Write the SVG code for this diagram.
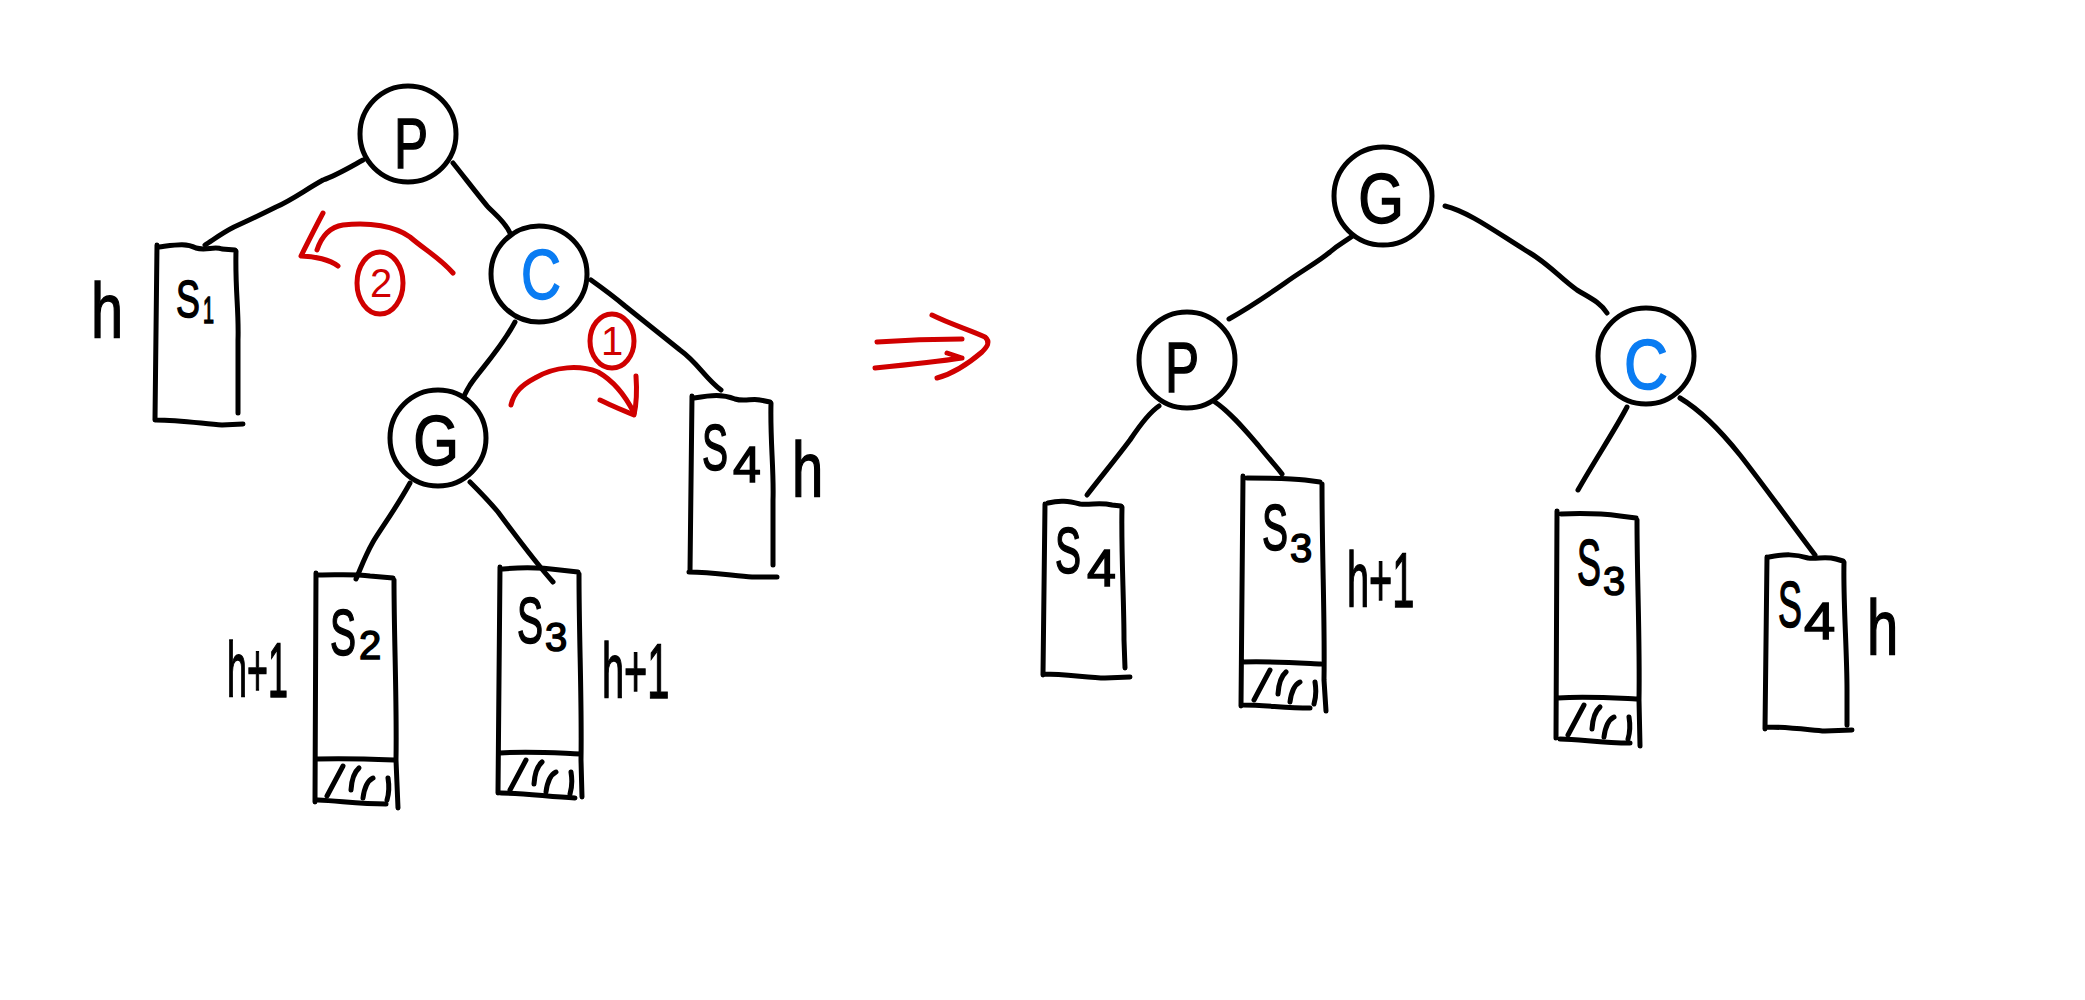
<svg xmlns="http://www.w3.org/2000/svg" xmlns:xlink="http://www.w3.org/1999/xlink" width="2085" height="1000" viewBox="0 0 2085 1000">
<style>
.ink{fill:none;stroke:#000;stroke-width:5;stroke-linecap:round;stroke-linejoin:round}
.red{fill:none;stroke:#D00000;stroke-width:5;stroke-linecap:round;stroke-linejoin:round}
.circ{fill:#fff;stroke:#000;stroke-width:5}
.t{font-family:"Liberation Sans","DejaVu Sans",sans-serif;fill:#000;stroke:#000;stroke-width:1.5}
.nl{font-size:70px;text-anchor:middle}
.blue{fill:#0A7CF2;stroke:#0A7CF2}
.s{font-size:64px}
.d{font-size:40px}
.hl{font-size:78px}
.rn{font-family:"Liberation Sans","DejaVu Sans",sans-serif;font-size:40px;fill:#D00000;text-anchor:middle}
</style>
<defs>
<path id="hatch" class="ink" d="M11,36 L27,6 M35,30 Q36,14 43,8 M47,38 Q49,22 57,18 M72,18 Q74,30 71,40"/>
</defs>
<rect width="2085" height="1000" fill="#fff"/>

<g id="connectors">
<path class="ink" d="M363,160 C345,170 335,176 323,180 C305,190 292,200 276,207 C260,215 245,222 234,227 C222,233 213,240 205,245"/>
<path class="ink" d="M453,163 C465,178 478,195 488,207 C497,216 505,222 510,233"/>
<path class="ink" d="M515,322 C500,350 480,370 470,385 C465,393 462,400 459,408"/>
<path class="ink" d="M591,280 C605,290 612,295 625,306 C645,322 665,338 680,350 C698,363 705,378 721,390"/>
<path class="ink" d="M410,483 C395,510 380,530 373,542 C365,556 360,570 356,579"/>
<path class="ink" d="M470,482 C480,492 488,500 498,512 C515,535 535,562 553,582"/>
<path class="ink" d="M1358,232 C1345,242 1340,243 1330,252 C1318,262 1300,272 1285,283 C1265,297 1245,310 1229,319"/>
<path class="ink" d="M1445,206 C1470,212 1500,235 1530,253 C1550,265 1560,278 1577,290 C1590,298 1600,302 1607,313"/>
<path class="ink" d="M1159,406 C1150,412 1140,425 1130,440 C1115,460 1100,478 1087,495"/>
<path class="ink" d="M1215,402 C1230,412 1245,430 1258,445 C1270,460 1277,467 1282,474"/>
<path class="ink" d="M1627,407 C1615,430 1595,460 1578,490"/>
<path class="ink" d="M1680,398 C1700,410 1720,430 1740,455 C1765,487 1790,522 1815,555"/>
</g>

<g id="rotations">
<g id="rot2">
<path class="red" d="M453,273 C440,258 425,250 410,237 C395,226 370,222 343,225 C330,227 322,235 317,250"/>
<path class="red" d="M323,213 C315,228 308,242 301,256 C315,256 330,260 338,266"/>
<ellipse class="red" cx="380" cy="283" rx="23" ry="31"/>
<text class="rn" x="381" y="297">2</text>
</g>
<g id="rot1">
<path class="red" d="M511,405 C514,392 522,385 535,378 C555,366 580,365 598,372 C612,380 625,395 634,413"/>
<path class="red" d="M636,376 C637,390 637,402 634,415 C622,410 610,405 600,400"/>
<ellipse class="red" cx="612" cy="341" rx="22" ry="27"/>
<text class="rn" x="612" y="355">1</text>
</g>
<g id="transform-arrow">
<path class="red" d="M877,342 C905,340 935,339 962,339"/>
<path class="red" d="M875,368 C905,365 935,362 962,358 M947,353 L962,358"/>
<path class="red" d="M932,315 C950,324 970,330 985,337 C991,342 987,347 982,352 C968,364 952,374 937,378"/>
</g>
</g>

<g id="L-P">
<circle class="circ" cx="408" cy="134" r="48"/>
<text class="t nl" transform="translate(411,168) scale(0.73,1)">P</text>
</g>
<g id="L-C">
<circle class="circ" cx="539" cy="274" r="48"/>
<text class="t nl blue" transform="translate(541,299) scale(0.79,1)">C</text>
</g>
<g id="L-G">
<circle class="circ" cx="438" cy="438" r="48"/>
<text class="t nl" transform="translate(436,465) scale(0.84,1)">G</text>
</g>
<g id="L-S1">
<path class="ink" d="M157,245 L155,420 M159,247 C176,245 186,243 196,248 C206,251 214,246 222,249 L235,250 M236,251 C235,290 239,310 238,340 L238,413 M156,420 C180,420 205,424 222,425 L243,424"/>
<text class="t" font-size="52" transform="translate(176,317) scale(0.69,1)">S</text>
<text class="t" font-size="36" transform="translate(203,323) scale(0.55,1)">1</text>
<text class="t hl" transform="translate(91,338) scale(0.74,1)">h</text>
</g>
<g id="L-S4">
<path class="ink" d="M692,396 L690,572 M694,398 C712,395 722,394 735,399 C745,402 752,398 760,400 L770,402 M771,403 C770,440 774,470 773,500 L773,565 M689,572 C712,572 735,576 752,577 L777,577"/>
<text class="t s" transform="translate(702,470) scale(0.61,1)">S</text>
<text class="t" font-size="50" transform="translate(733,482)">4</text>
<text class="t hl" transform="translate(792,497) scale(0.72,1)">h</text>
</g>
<g id="L-S2">
<path class="ink" d="M316,573 L315,802 M319,575 C340,575 355,574 370,576 L393,578 M394,580 C394,640 397,700 396,760 L398,808 M317,759 C345,758 370,759 394,760 M318,800 C340,801 360,804 386,804"/>
<use xlink:href="#hatch" transform="translate(316,760)"/>
<text class="t s" transform="translate(330,655) scale(0.61,1)">S</text>
<text class="t d" transform="translate(359,659)">2</text>
<text class="t hl" transform="translate(227,697) scale(0.46,1)">h+1</text>
</g>
<g id="L-S3">
<path class="ink" d="M500,567 L498,793 M503,569 C525,567 545,568 560,570 L578,572 M579,574 C579,640 582,700 581,760 L582,797 M500,753 C530,751 555,753 580,754 M501,793 C525,793 550,797 575,798"/>
<use xlink:href="#hatch" transform="translate(499,754)"/>
<text class="t s" transform="translate(517,643) scale(0.61,1)">S</text>
<text class="t d" transform="translate(545,651)">3</text>
<text class="t hl" transform="translate(602,698) scale(0.51,1)">h+1</text>
</g>

<g id="R-G">
<circle class="circ" cx="1383" cy="196" r="49"/>
<text class="t nl" transform="translate(1381,223) scale(0.84,1)">G</text>
</g>
<g id="R-P">
<circle class="circ" cx="1187" cy="360" r="48"/>
<text class="t nl" transform="translate(1182,392) scale(0.73,1)">P</text>
</g>
<g id="R-C">
<circle class="circ" cx="1646" cy="356" r="48"/>
<text class="t nl blue" transform="translate(1646,389) scale(0.87,1)">C</text>
</g>
<g id="R-S4a">
<path class="ink" d="M1045,504 L1043,675 M1048,503 C1060,500 1068,501 1080,504 C1092,505 1100,502 1112,505 L1121,506 M1122,507 C1121,550 1124,600 1124,640 L1125,668 M1044,674 C1065,674 1090,678 1105,678 L1130,677"/>
<text class="t s" transform="translate(1055,573) scale(0.61,1)">S</text>
<text class="t" font-size="52" transform="translate(1087,586)">4</text>
</g>
<g id="R-S3a">
<path class="ink" d="M1243,476 L1241,706 M1247,478 C1270,478 1290,478 1305,480 L1320,482 M1322,484 C1322,560 1325,620 1324,680 L1326,711 M1242,662 C1270,661 1300,663 1321,664 M1243,705 C1265,705 1285,708 1310,708"/>
<use xlink:href="#hatch" transform="translate(1243,664)"/>
<text class="t s" transform="translate(1262,550) scale(0.61,1)">S</text>
<text class="t d" transform="translate(1290,562)">3</text>
<text class="t hl" transform="translate(1347,607) scale(0.51,1)">h+1</text>
</g>
<g id="R-S3b">
<path class="ink" d="M1557,511 L1556,738 M1561,514 C1585,513 1605,514 1620,516 L1636,518 M1637,520 C1637,580 1640,640 1639,700 L1640,746 M1558,698 C1585,696 1615,698 1636,699 M1560,739 C1580,739 1600,743 1630,743"/>
<use xlink:href="#hatch" transform="translate(1557,699)"/>
<text class="t s" transform="translate(1577,585) scale(0.56,1)">S</text>
<text class="t d" transform="translate(1603,595)">3</text>
</g>
<g id="R-S4b">
<path class="ink" d="M1767,557 L1765,729 M1769,557 C1785,554 1795,554 1808,558 C1818,559 1826,556 1836,559 L1843,561 M1844,562 C1843,600 1847,650 1847,690 L1847,725 M1766,727 C1790,727 1810,730 1825,731 L1852,730"/>
<text class="t s" transform="translate(1778,627) scale(0.56,1)">S</text>
<text class="t" font-size="52" transform="translate(1804,639) scale(1.08,1)">4</text>
<text class="t hl" transform="translate(1867,655) scale(0.72,1)">h</text>
</g>
</svg>
